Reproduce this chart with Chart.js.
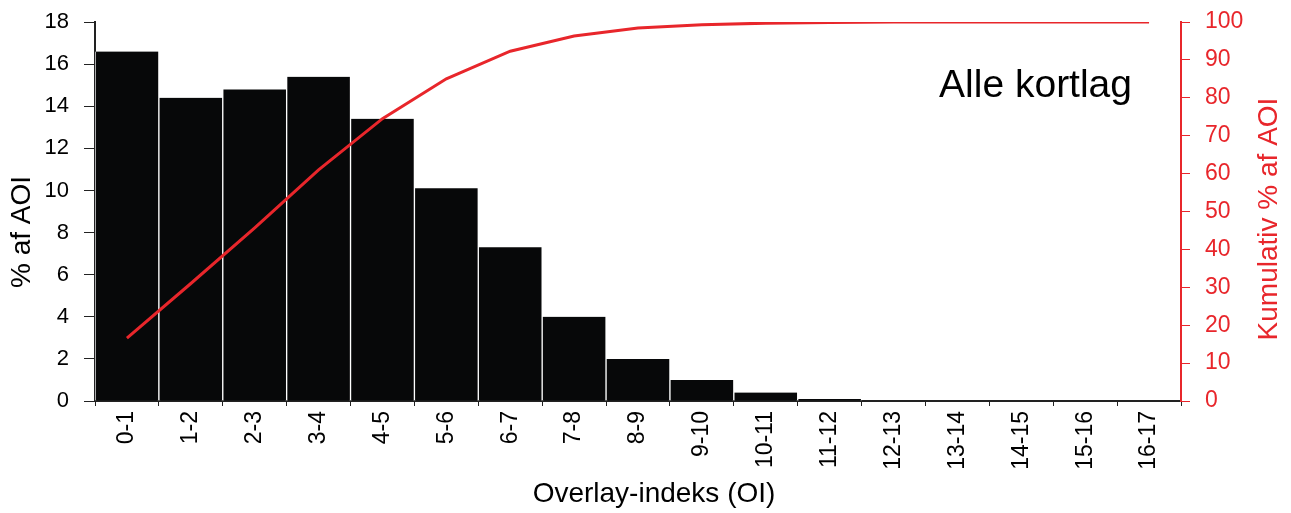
<!DOCTYPE html>
<html>
<head>
<meta charset="utf-8">
<script src="https://cdn.jsdelivr.net/npm/chart.js@4.4.1/dist/chart.umd.min.js"></script>
<style>
  html, body { margin: 0; padding: 0; background: #fff; }
  #wrap { width: 1291px; height: 513px; }
</style>
</head>
<body>
<div id="wrap"><canvas id="oiChart" width="1291" height="513"></canvas></div>
<script>
// Overlay-indeks kategorier
const oiLabels = ["0-1", "1-2", "2-3", "3-4", "4-5", "5-6", "6-7", "7-8", "8-9",
    "9-10", "10-11", "11-12", "12-13", "13-14", "14-15", "15-16", "16-17"];

// % af AOI pr. kategori (aflæst)
const pctAoi = [16.6, 14.4, 14.8, 15.4, 13.4, 10.1, 7.3, 4.0, 2.0,
    1.0, 0.4, 0.1, 0.02, 0, 0, 0, 0];

// Kumulativ % af AOI (aflæst)
const cumPct = [16.6, 31.0, 45.7, 61.0, 74.5, 85.0, 92.3, 96.3, 98.4,
    99.3, 99.7, 99.9, 100, 100, 100, 100, 100];

const leftTicks = [0, 2, 4, 6, 8, 10, 12, 14, 16, 18];
const rightTicks = [0, 10, 20, 30, 40, 50, 60, 70, 80, 90, 100];

const FONT = "'Liberation Sans', Arial, sans-serif";
const RED = "#e8262b";

// akse-titler og "Alle kortlag" tegnes selv (højre titel læses nedefra og op)
const extraText = {
    id: "extraText",
    afterDraw(chart) {
        const ctx = chart.ctx;
        ctx.save();
        ctx.fillStyle = "#000";
        ctx.font = "39px " + FONT;
        ctx.textAlign = "right";
        ctx.textBaseline = "alphabetic";
        ctx.fillText("Alle kortlag", 1132, 97);

        ctx.font = "28px " + FONT;
        ctx.textAlign = "center";
        ctx.textBaseline = "middle";
        ctx.fillText("Overlay-indeks (OI)", 654, 494);

        ctx.save();
        ctx.translate(22, 232);
        ctx.rotate(-Math.PI / 2);
        ctx.fillText("% af AOI", 0, 0);
        ctx.restore();

        ctx.save();
        ctx.fillStyle = RED;
        ctx.translate(1269, 219);
        ctx.rotate(-Math.PI / 2);
        ctx.fillText("Kumulativ % af AOI", 0, 0);
        ctx.restore();
        ctx.restore();
    }
};

// faste aksebredder, ingen ekstra label-padding
function fixY(w) {
    return function (s) {
        s.width = w;
        s.paddingTop = 0;
        s.paddingBottom = 0;
    };
}

new Chart(document.getElementById("oiChart"), {
    data: {
        labels: oiLabels,
        datasets: [
            {
                type: "line",
                label: "Kumulativ",
                data: cumPct,
                yAxisID: "yR",
                borderColor: RED,
                borderWidth: 3,
                pointRadius: 0,
                tension: 0,
                order: 0
            },
            {
                type: "bar",
                label: "% af AOI",
                data: pctAoi,
                yAxisID: "yL",
                backgroundColor: "#070809",
                borderColor: "#ffffff",
                borderWidth: { left: 1, right: 1, top: 0, bottom: 0 },
                categoryPercentage: 1.0,
                barPercentage: 1.0,
                order: 1
            }
        ]
    },
    options: {
        responsive: false,
        animation: false,
        devicePixelRatio: 1,
        layout: { padding: { top: 22, left: 0, right: 0, bottom: 0 } },
        plugins: { legend: { display: false }, tooltip: { enabled: false } },
        scales: {
            x: {
                offset: true,
                grid: { display: true, drawOnChartArea: false, drawTicks: true, tickLength: 5, color: "#222", offset: true },
                border: { color: "#222", width: 2 },
                ticks: {
                    color: "#000", font: { family: FONT, size: 23 },
                    minRotation: 90, maxRotation: 90, autoSkip: false, padding: 5
                },
                afterFit(s) {
                    s.height = 112;
                    s.paddingLeft = 0;
                    s.paddingRight = 0;
                }
            },
            yL: {
                position: "left",
                min: 0, max: 18,
                afterBuildTicks(s) { s.ticks = leftTicks.map(v => ({ value: v })); },
                grid: { drawOnChartArea: false, drawTicks: true, tickLength: 11, color: "#222" },
                border: { color: "#222", width: 2 },
                ticks: { color: "#000", font: { family: FONT, size: 22 }, padding: 15 },
                afterFit: fixY(95)
            },
            yR: {
                position: "right",
                min: 0, max: 100,
                afterBuildTicks(s) { s.ticks = rightTicks.map(v => ({ value: v })); },
                grid: { drawOnChartArea: false, drawTicks: true, tickLength: 9, color: RED },
                border: { color: RED, width: 2 },
                ticks: { color: RED, font: { family: FONT, size: 23 }, padding: 15 },
                afterFit: fixY(110)
            }
        }
    },
    plugins: [extraText]
});
</script>
</body>
</html>
